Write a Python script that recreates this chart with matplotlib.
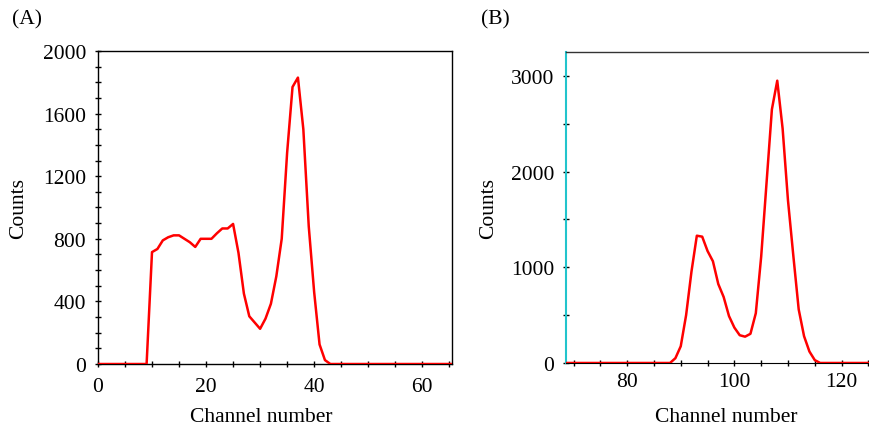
"""
Two channel-count spectra, panels (A) and (B).
"""
import matplotlib
matplotlib.use('Agg')
import matplotlib.pyplot as plt
import numpy as np
from matplotlib.ticker import MultipleLocator

plt.rcParams['font.family'] = ['Liberation Serif', 'DejaVu Serif']

# Panel A: channel 0..66
chan_a = list(range(0, 67))
counts_a = ([0] * 10 +
            [715, 735, 790, 810, 822, 822, 800, 778, 748, 800,
             800, 800, 835, 866, 866, 895, 710, 450, 305, 265,
             225, 290, 385, 560, 800, 1350, 1770, 1830, 1500, 880,
             460, 125, 25] +
            [0] * 24)

# Panel B: channel 68..126
chan_b = list(range(68, 127))
counts_b = ([0] * 20 +
            [0, 50, 175, 500, 955, 1330, 1320, 1170, 1063, 825,
             690, 490, 370, 290, 275, 305, 520, 1110, 1880, 2650,
             2950, 2450, 1700, 1120, 560, 280, 120, 30, 0] +
            [0] * 10)

fig = plt.figure(figsize=(8.7, 4.31), dpi=100)
axA = fig.add_axes([0.1126, 0.1531, 0.4069, 0.7263])
axB = fig.add_axes([0.6506, 0.1555, 0.3494, 0.7216])

fs = 15.5
red = '#ff0000'

# ---- panel A
axA.plot(chan_a, counts_a, color=red, lw=1.8, clip_on=True, zorder=3)
axA.set_xlim(0, 65.5)
axA.set_ylim(0, 2000)
axA.xaxis.set_major_locator(MultipleLocator(20))
axA.xaxis.set_minor_locator(MultipleLocator(5))
axA.yaxis.set_major_locator(MultipleLocator(400))
axA.yaxis.set_minor_locator(MultipleLocator(100))
for s in axA.spines.values():
    s.set_color('black')
    s.set_linewidth(1.0)
axA.tick_params(which='both', direction='inout', length=5, width=1,
                labelsize=fs, top=False, right=False)
axA.tick_params(axis='y', pad=6)
axA.tick_params(axis='x', pad=6.5)
axA.set_xlabel('Channel number', fontsize=fs)
axA.set_ylabel('Counts', fontsize=fs)
axA.xaxis.set_label_coords(0.46, -0.137)
axA.yaxis.set_label_coords(-0.198, 0.5)

# ---- panel B
axB.plot(chan_b, counts_b, color=red, lw=1.8, clip_on=True, zorder=3)
axB.set_xlim(68.6, 125.3)
axB.set_ylim(0, 3250)
axB.xaxis.set_major_locator(MultipleLocator(20))
axB.xaxis.set_minor_locator(MultipleLocator(5))
axB.yaxis.set_major_locator(MultipleLocator(1000))
axB.yaxis.set_minor_locator(MultipleLocator(500))
axB.spines['left'].set_color('#22c4cc')
axB.spines['left'].set_linewidth(1.5)
axB.spines['top'].set_color('#333333')
axB.spines['top'].set_linewidth(1.0)
axB.spines['bottom'].set_color('black')
axB.spines['right'].set_visible(False)
axB.tick_params(which='both', direction='inout', length=5, width=1,
                labelsize=fs, top=False, right=False, colors='black')
axB.tick_params(axis='y', pad=6)
axB.tick_params(axis='x', pad=4)
axB.set_xlabel('Channel number', fontsize=fs)
axB.set_ylabel('Counts', fontsize=fs)
axB.xaxis.set_label_coords(0.5286, -0.141)
axB.yaxis.set_label_coords(-0.224, 0.5)

fig.text(12 / 870, 1 - 20 / 431, '(A)', fontsize=fs, va='center', ha='left')
fig.text(481 / 870, 1 - 20 / 431, '(B)', fontsize=fs, va='center', ha='left')

fig.savefig('out.png', dpi=100)
